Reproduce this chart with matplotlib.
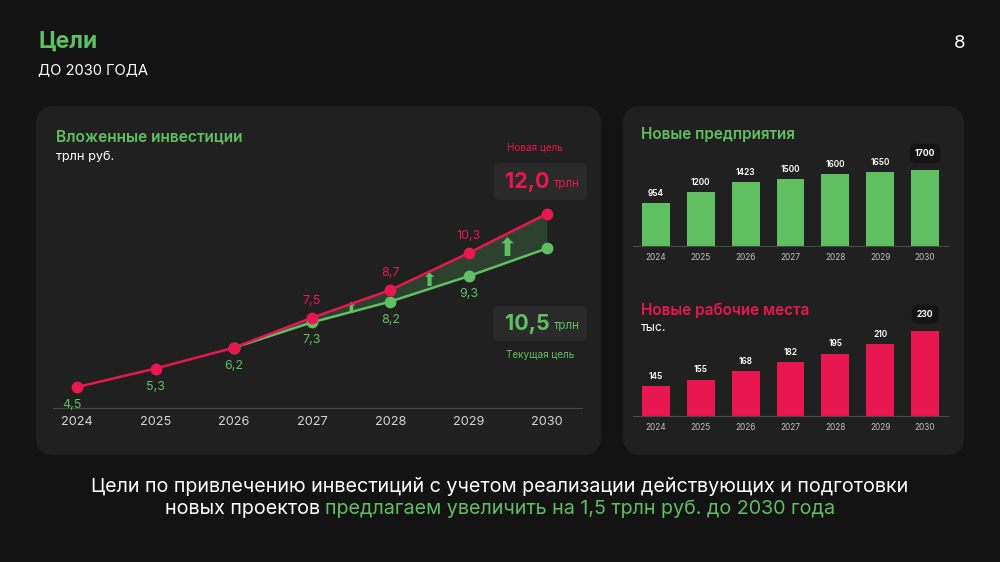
import matplotlib
matplotlib.use("Agg")
import matplotlib.pyplot as plt
from matplotlib.patches import FancyBboxPatch

plt.rcParams['font.family'] = ['Inter', 'DejaVu Sans']

# data
years = [2024, 2025, 2026, 2027, 2028, 2029, 2030]
new_goal = [4.5, 5.3, 6.2, 7.5, 8.7, 10.3, 12.0]
cur_goal = [4.5, 5.3, 6.2, 7.3, 8.2, 9.3, 10.5]
enterprises = [954, 1200, 1423, 1500, 1600, 1650, 1700]
jobs = [145, 155, 168, 182, 195, 210, 230]

GREEN = '#5fbf61'
RED = '#e8174f'
BG = '#131313'
PANEL = '#202020'

fig = plt.figure(figsize=(10, 5.62), dpi=100, facecolor=BG)

# background axes in pixel coords
bg = fig.add_axes([0, 0, 1, 1])
bg.set_xlim(0, 1000)
bg.set_ylim(562, 0)
bg.axis('off')


def px_axes(x0, y0, x1, y1):
    a = fig.add_axes([x0 / 1000, 1 - y1 / 562, (x1 - x0) / 1000, (y1 - y0) / 562])
    a.set_facecolor('none')
    return a


def panel(x0, y0, x1, y1, fc=PANEL, r=18):
    bg.add_patch(FancyBboxPatch((x0, y0), x1 - x0, y1 - y0,
                                boxstyle=f"round,pad=0,rounding_size={r}",
                                fc=fc, ec='none'))


def fmt(v):
    return f"{v:.1f}".replace('.', ',')


panel(36, 106, 601, 455)
panel(623, 106, 964, 455)

# header
bg.text(38, 42, 'Цели', color=GREEN, fontsize=16.5, fontweight='bold', va='center')
bg.text(38, 70, 'ДО 2030 ГОДА', color='white', fontsize=10.6, va='center')
bg.text(960, 44, '8', color='white', fontsize=13.5, va='center', ha='center')

# ---- line chart ----
bg.text(56, 137, 'Вложенные инвестиции', color=GREEN, fontsize=11.2, fontweight='semibold', va='center')
bg.text(56, 157, 'трлн руб.', color='white', fontsize=9.2, va='center')

ax = px_axes(53, 200, 582, 408)
ax.set_xlim(2023.69, 2030.45)
ax.set_ylim(3.59, 12.6)
i0 = years.index(2026)
ax.fill_between(years[i0:], cur_goal[i0:], new_goal[i0:], color=GREEN, alpha=0.22, lw=0)
ax.plot(years[i0:], cur_goal[i0:], color=GREEN, lw=1.8, marker='o', ms=7.5, zorder=3)
ax.plot(years, new_goal, color=RED, lw=1.8, marker='o', ms=7.5, zorder=4)

for y, v in zip(years[:-1], cur_goal[:-1]):
    ax.annotate(fmt(v), (y, v), xytext=(-4 if y == 2024 else 0, -13), textcoords='offset points',
                ha='center', va='center', color=GREEN, fontsize=9)
for y, v in zip(years[3:-1], new_goal[3:-1]):
    ax.annotate(fmt(v), (y, v), xytext=(0, 12), textcoords='offset points',
                ha='center', va='center', color=RED, fontsize=9)

# up arrows between the two goals
for k, size in zip(range(i0 + 1, len(years) - 1), [11, 13, 18]):
    xm = (years[k] + years[k + 1]) / 2
    lo = (cur_goal[k] + cur_goal[k + 1]) / 2
    hi = (new_goal[k] + new_goal[k + 1]) / 2
    ax.text(xm, lo + 0.45 * (hi - lo), '⬆', color=GREEN, fontsize=size,
            ha='center', va='center', family='DejaVu Sans')

ax.set_xticks(years)
ax.set_xticklabels([str(y) for y in years], color='#d5d5d5', fontsize=9.2)
ax.tick_params(axis='x', length=0, pad=6)
ax.set_yticks([])
for s in ['top', 'right', 'left']:
    ax.spines[s].set_visible(False)
ax.spines['bottom'].set_color('#454545')

# goal boxes
bg.text(535, 147, 'Новая цель', color=RED, fontsize=7.2, ha='center', va='center')
panel(494, 163, 587, 200, fc='#2a2a2a', r=6)
bg.text(550, 182, fmt(new_goal[-1]), color=RED, fontsize=15.5, fontweight='bold', ha='right', va='center')
bg.text(554, 184, 'трлн', color=RED, fontsize=8.3, ha='left', va='center')

panel(493, 306, 587, 341, fc='#2a2a2a', r=6)
bg.text(550, 324, fmt(cur_goal[-1]), color=GREEN, fontsize=15.5, fontweight='bold', ha='right', va='center')
bg.text(554, 326, 'трлн', color=GREEN, fontsize=8.3, ha='left', va='center')
bg.text(540, 355, 'Текущая цель', color=GREEN, fontsize=7.2, ha='center', va='center')


# ---- bar charts ----
def bars(ax, vals, color, ylim, off_last):
    ax.bar(years, vals, width=0.62, color=color, zorder=2)
    ax.set_xlim(2023.49, 2030.51)
    ax.set_ylim(*ylim)
    for y, v in zip(years[:-1], vals[:-1]):
        ax.annotate(f"{v}", (y, v), xytext=(0, 7), textcoords='offset points',
                    ha='center', va='center', color='white', fontsize=6, fontweight='semibold')
    ax.annotate(f"{vals[-1]}", (years[-1], vals[-1]), xytext=(0, off_last), textcoords='offset points',
                ha='center', va='center', color='white', fontsize=6.2, fontweight='bold',
                bbox=dict(boxstyle='round,pad=0.6,rounding_size=0.8', fc='#141414', ec='none'))
    ax.set_xticks(years)
    ax.set_xticklabels([str(y) for y in years], color='#c0c0c0', fontsize=6)
    ax.tick_params(axis='x', length=0, pad=5)
    ax.set_yticks([])
    for s in ['top', 'right', 'left']:
        ax.spines[s].set_visible(False)
    ax.spines['bottom'].set_color('#4a4a4a')
    ax.spines['bottom'].set_zorder(3)


bg.text(641, 135, 'Новые предприятия', color=GREEN, fontsize=11, fontweight='semibold', va='center')
ax1 = px_axes(633, 150, 948, 246)
bars(ax1, enterprises, GREEN, (0, 2148), 12)

bg.text(641, 310, 'Новые рабочие места', color=RED, fontsize=11, fontweight='semibold', va='center')
bg.text(641, 328, 'тыс.', color='white', fontsize=8.8, va='center')
ax2 = px_axes(633, 320, 948, 416)
bars(ax2, jobs, RED, (98.6, 247), 12)

# ---- bottom caption ----
bg.text(500, 487, 'Цели по привлечению инвестиций с учетом реализации действующих и подготовки',
        color='white', fontsize=14.2, ha='center', va='center')
t1 = bg.text(0, 509, 'новых проектов ', color='white', fontsize=14.2, ha='left', va='center')
t2 = bg.text(0, 509, 'предлагаем увеличить на 1,5 трлн руб. до 2030 года', color=GREEN,
             fontsize=14.2, ha='left', va='center')
r = fig.canvas.get_renderer()
w1 = t1.get_window_extent(r).width
w2 = t2.get_window_extent(r).width
x0 = 500 - (w1 + w2) / 2
t1.set_x(x0)
t2.set_x(x0 + w1)

fig.savefig('out.png', dpi=100, facecolor=BG)
